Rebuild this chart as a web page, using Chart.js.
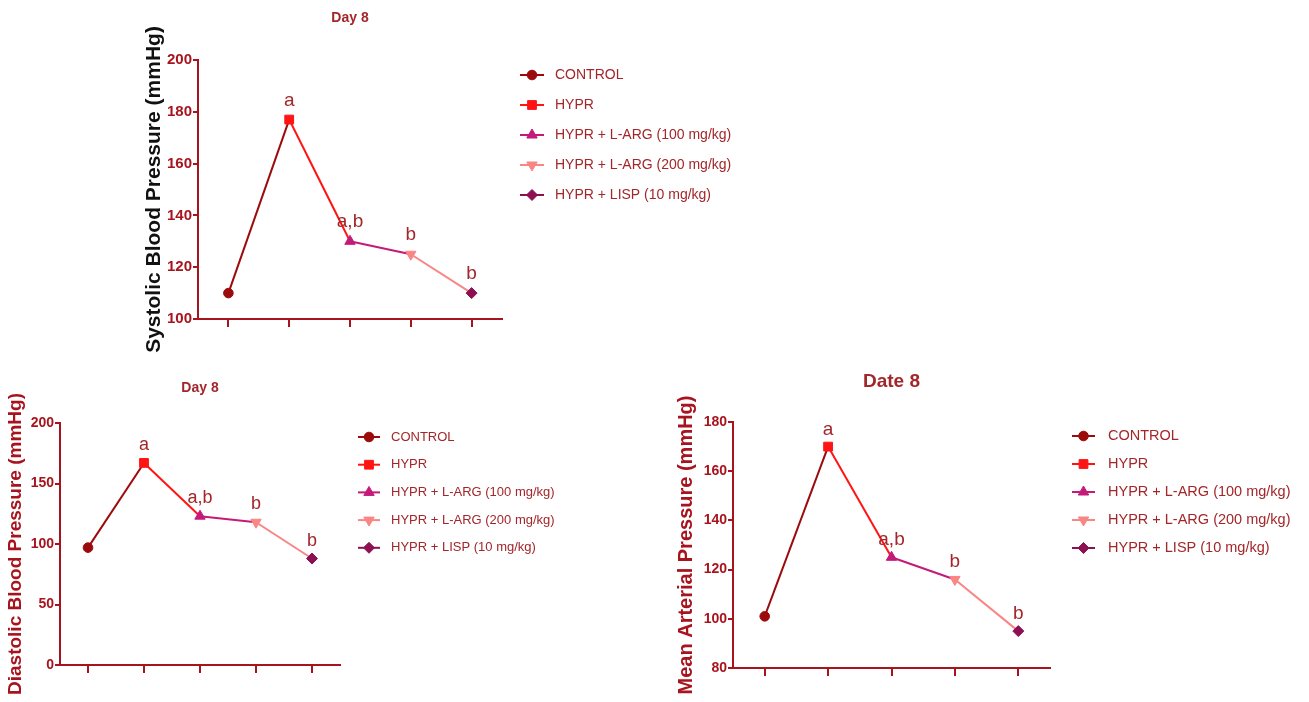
<!DOCTYPE html>
<html>
<head>
<meta charset="utf-8">
<title>Day 8 blood pressure</title>
<script src="https://cdn.jsdelivr.net/npm/chart.js@4.4.1/dist/chart.umd.min.js"></script>
<style>
  body { margin: 0; background: #fff; width: 1309px; height: 702px; position: relative; overflow: hidden; }
  canvas { position: absolute; }
</style>
</head>
<body>
<canvas id="sbpChart" width="760" height="360" style="left:0;top:0"></canvas>
<canvas id="dbpChart" width="620" height="342" style="left:0;top:360px"></canvas>
<canvas id="mapChart" width="669" height="342" style="left:640px;top:360px"></canvas>
<script>
// Data
const groups = ['CONTROL', 'HYPR', 'HYPR + L-ARG (100 mg/kg)', 'HYPR + L-ARG (200 mg/kg)', 'HYPR + LISP (10 mg/kg)'];
const sbpValues = [110, 177, 130, 125, 110];
const dbpValues = [97, 167, 123, 118, 88];
const mapValues = [101, 170, 125, 116, 95];
const sigLetters = ['', 'a', 'a,b', 'b', 'b'];
const sbpTicks = [100, 120, 140, 160, 180, 200];
const dbpTicks = [0, 50, 100, 150, 200];
const mapTicks = [80, 100, 120, 140, 160, 180];

// Styles for each group
const groupColors = ['#9c0b0b', '#ff1414', '#c41a7a', '#f98585', '#8c1052'];
const groupMarkers = ['circle', 'rect', 'triangle', 'triangle', 'rectRot'];
const markerRotation = [0, 0, 0, 180, 0];
const markerRadius = [4.8, 6.2, 6, 6, 5.5];

const axisColor = '#a8141e';
const textColor = '#a3262a';
const sansFont = "'Liberation Sans', Arial, sans-serif";

// Draws the a / a,b / b letters above each point
const sigLetterPlugin = {
    id: 'sigLetters',
    afterDatasetsDraw(chart, args, opts) {
        const meta = chart.getDatasetMeta(0);
        const ctx = chart.ctx;
        ctx.save();
        ctx.font = opts.font;
        ctx.fillStyle = textColor;
        ctx.textAlign = 'center';
        ctx.textBaseline = 'alphabetic';
        sigLetters.forEach((txt, i) => {
            if (!txt) return;
            const pt = meta.data[i];
            ctx.fillText(txt, pt.x, pt.y - opts.lift);
        });
        ctx.restore();
    }
};

// Legend with line + marker, like the Prism style one
const groupLegendPlugin = {
    id: 'groupLegend',
    afterDraw(chart, args, opts) {
        const ctx = chart.ctx;
        ctx.save();
        ctx.font = opts.font;
        ctx.textBaseline = 'middle';
        ctx.textAlign = 'left';
        groups.forEach((name, i) => {
            const y = opts.top + i * opts.rowGap;
            ctx.strokeStyle = groupColors[i];
            ctx.fillStyle = groupColors[i];
            ctx.lineWidth = 2;
            ctx.beginPath();
            ctx.moveTo(opts.left, y);
            ctx.lineTo(opts.left + opts.lineLen, y);
            ctx.stroke();
            ctx.lineWidth = 1;
            Chart.helpers.drawPoint(ctx, {
                pointStyle: groupMarkers[i],
                rotation: markerRotation[i],
                radius: markerRadius[i],
                borderWidth: 1
            }, opts.left + opts.lineLen / 2, y);
            ctx.fillStyle = textColor;
            ctx.fillText(name, opts.textLeft, y);
        });
        ctx.restore();
    }
};

function createChart(canvasId, values, ticks, cfg) {
    const step = ticks[1] - ticks[0];
    return new Chart(document.getElementById(canvasId), {
        type: 'line',
        data: {
            labels: groups,
            datasets: [{
                data: values,
                borderWidth: 2,
                tension: 0,
                segment: {
                    borderColor: c => groupColors[c.p0DataIndex]
                },
                pointStyle: groupMarkers,
                pointRotation: markerRotation,
                pointRadius: markerRadius,
                pointBackgroundColor: groupColors,
                pointBorderColor: groupColors,
                pointBorderWidth: 1
            }]
        },
        options: {
            responsive: false,
            animation: false,
            events: [],
            layout: { padding: { left: 0, top: 0, bottom: 0, right: cfg.padRight } },
            plugins: {
                legend: { display: false },
                tooltip: { enabled: false },
                title: {
                    display: true,
                    text: cfg.title,
                    fullSize: false,
                    color: textColor,
                    font: { family: sansFont, size: cfg.titleSize, weight: 'bold', lineHeight: 1.2 },
                    padding: { top: cfg.titleTop, bottom: cfg.titleBottom }
                },
                sigLetters: { font: cfg.letterFont, lift: cfg.letterLift },
                groupLegend: cfg.legend
            },
            scales: {
                x: {
                    type: 'category',
                    offset: true,
                    afterFit: s => { s.height = cfg.xHeight; },
                    border: { display: true, color: axisColor, width: 2 },
                    grid: { display: true, offset: false, drawOnChartArea: false, drawTicks: true, tickLength: 8, color: axisColor, lineWidth: 2 },
                    ticks: { display: false }
                },
                y: {
                    min: ticks[0],
                    max: ticks[ticks.length - 1],
                    afterFit: s => { s.width = cfg.yWidth; },
                    afterBuildTicks: s => { s.ticks = ticks.map(v => ({ value: v })); },
                    border: { display: true, color: axisColor, width: 2 },
                    grid: { display: true, drawOnChartArea: false, drawTicks: true, tickLength: 5, color: axisColor, lineWidth: 2 },
                    ticks: {
                        stepSize: step,
                        padding: 1,
                        color: axisColor,
                        font: { family: sansFont, size: cfg.tickSize, weight: 'bold' }
                    },
                    title: {
                        display: true,
                        text: cfg.yTitle,
                        color: cfg.yTitleColor,
                        font: { family: sansFont, size: cfg.yTitleSize, weight: 'bold', lineHeight: 1.2 },
                        padding: { top: cfg.yTitlePad, bottom: 0 }
                    }
                }
            }
        },
        plugins: [sigLetterPlugin, groupLegendPlugin]
    });
}

createChart('sbpChart', sbpValues, sbpTicks, {
    title: 'Day 8', titleSize: 14, titleTop: 9.6, titleBottom: 33.6,
    padRight: 258, yWidth: 198, xHeight: 41, tickSize: 15,
    yTitle: 'Systolic Blood Pressure (mmHg)', yTitleColor: '#111111', yTitleSize: 21, yTitlePad: 142,
    letterFont: "19px " + sansFont, letterLift: 14,
    legend: { font: "14px " + sansFont, left: 520, lineLen: 24, textLeft: 555, top: 75, rowGap: 30 }
});

createChart('dbpChart', dbpValues, dbpTicks, {
    title: 'Day 8', titleSize: 14, titleTop: 19.6, titleBottom: 26.6,
    padRight: 280, yWidth: 60, xHeight: 37, tickSize: 14,
    yTitle: 'Diastolic Blood Pressure (mmHg)', yTitleColor: axisColor, yTitleSize: 19, yTitlePad: 4,
    letterFont: "18px " + sansFont, letterLift: 13,
    legend: { font: "13px " + sansFont, left: 358, lineLen: 22, textLeft: 391, top: 77, rowGap: 27.7 }
});

createChart('mapChart', mapValues, mapTicks, {
    title: 'Date 8', titleSize: 19, titleTop: 10.6, titleBottom: 28.6,
    padRight: 259, yWidth: 93, xHeight: 34, tickSize: 14,
    yTitle: 'Mean Arterial Pressure (mmHg)', yTitleColor: axisColor, yTitleSize: 20, yTitlePad: 34,
    letterFont: "19px " + sansFont, letterLift: 12,
    legend: { font: "14.5px " + sansFont, left: 432, lineLen: 23, textLeft: 468, top: 76, rowGap: 28 }
});
</script>
</body>
</html>
